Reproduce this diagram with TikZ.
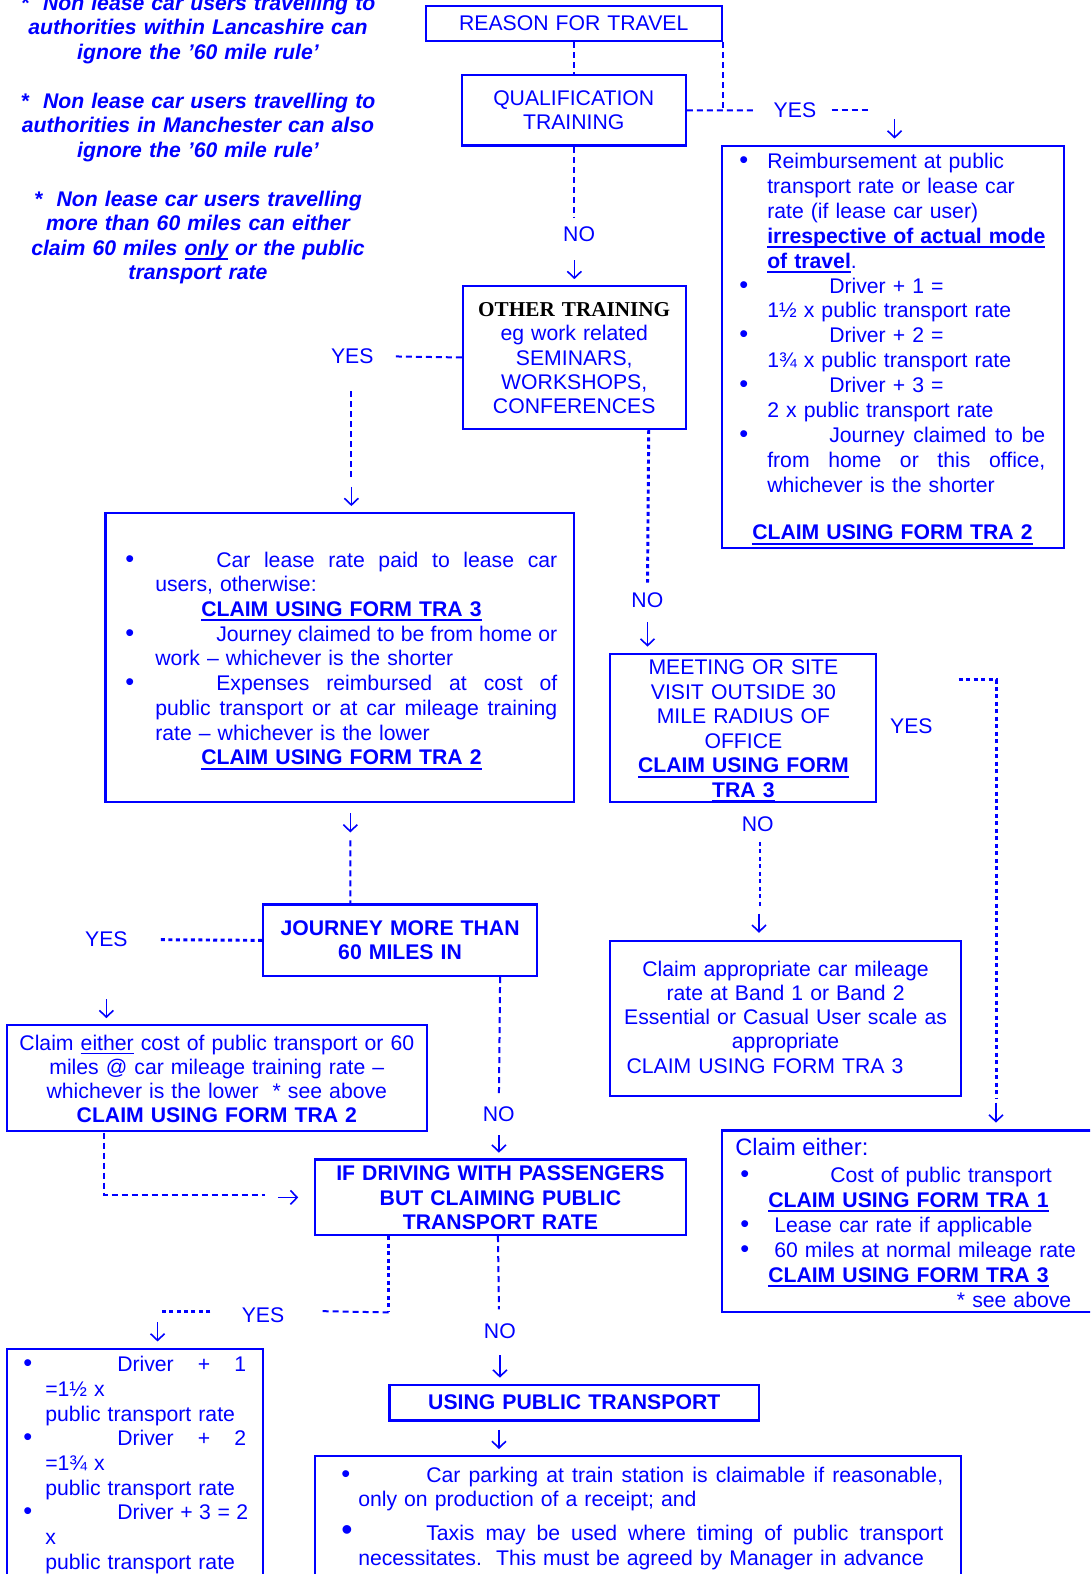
\documentclass[tikz,border=0pt]{standalone}
\usepackage{fontspec}
\setmainfont{Liberation Sans}
\newfontfamily\serifb{Liberation Serif}
\usetikzlibrary{arrows.meta,calc,fit}
\definecolor{bl}{RGB}{0,0,255}
\newlength\px \setlength\px{0.75pt}
\newcommand\fz{\fontsize{15.9}{18.4}\selectfont}
\newsavebox\ulbox
\newcommand\ulb[1]{\leavevmode\sbox\ulbox{\bfseries #1}\rlap{\rule[-3.6pt]{\wd\ulbox}{1.5pt}}\usebox\ulbox}
\newcommand\ulthin[1]{\leavevmode\sbox\ulbox{#1}\rlap{\rule[-3.2pt]{\wd\ulbox}{1.1pt}}\usebox\ulbox}
\newcommand\bul[1]{\makebox[#1\px][l]{{\fontsize{19}{18}\selectfont\textbullet}}}
\newcommand\bigbul[1]{\makebox[#1\px][l]{{\fontsize{24}{18}\selectfont\textbullet}}}
\newcommand\sx[2]{{\spaceskip=0pt\xspaceskip=0pt\makebox[#1\px][s]{#2}}}
\begin{document}
\begin{tikzpicture}[x=0.75pt,y=-0.75pt,
  every node/.style={text=bl,font=\fz,inner sep=0pt},
  box/.style={draw=bl,line width=1.6pt},
  ctr/.style={anchor=base,align=center},
  dsh/.style={draw=bl,line width=1.5pt,dash pattern=on 4.5pt off 3pt},
  dot/.style={draw=bl,line width=2.2pt,dash pattern=on 3pt off 2.6pt},
  arr/.style={draw=bl,line width=1.2pt,-{Straight Barb[length=5pt,width=10.5pt]}},
  blk/.style={anchor=base west,align=left}]
\useasboundingbox (0,0) rectangle (1090,1574);
\clip (0,0) rectangle (1090,1574);
\fill[white] (0,0) rectangle (1090,1574);

% ---------- notes ----------
\node[anchor=base,text width=420\px,align=center,font=\fz\bfseries\itshape] (notes) at (198,10)
 {*\ \ Non lease car users travelling to\\ authorities within Lancashire can\\ ignore the ’60 mile rule’\\[18.4pt]
  *\ \ Non lease car users travelling to\\ authorities in Manchester can also\\ ignore the ’60 mile rule’\\[18.4pt]
  *\ \ Non lease car users travelling\\ more than 60 miles can either\\ claim 60 miles \ulthin{only} or the public\\ transport rate};

\begin{scope}[scale=1.0037]
% ---------- boxes ----------
\node[box,fit={(424,6)(719,41)}] (reason) {};
\node[box,fit={(460,75)(683,145)}] (qual) {};
\node[box,fit={(719,145)(1060,546)}] (r1) {};
\node[box,fit={(461,285)(683,427)}] (other) {};
\node[box,fit={(105,511)(572,799)}] (b2) {};
\node[box,fit={(608,651)(873,799)}] (meet) {};
\node[box,fit={(608,937)(957,1092)}] (capp) {};
\node[box,fit={(262,901)(535,972)}] (journey) {};
\node[box,fit={(7,1021)(425,1127)}] (ce) {};
\node[box,fit={(719,1126)(1120,1307)}] (beb) {};
\node[box,fit={(314,1155)(683,1230)}] (ifd) {};
\node[box,fit={(7,1344)(262,1610)}] (bleft) {};
\node[box,fit={(388,1380)(756,1415)}] (upt) {};
\node[box,fit={(314,1450)(957,1610)}] (bot) {};

% ---------- labels ----------
\node (yes1) at (792,110) {YES};
\node (no1) at (577,233) {NO};
\node (yes2) at (351,355) {YES};
\node (no2) at (645,598) {NO};
\node (yes3) at (908,724) {YES};
\node (no3) at (755,821) {NO};
\node (yes4) at (106,936) {YES};
\node (no4) at (497,1110) {NO};
\node (yes5) at (262,1310) {YES};
\node (no5) at (498,1326) {NO};

% ---------- connectors ----------
\draw[dsh] (reason.south) -- (qual.north);
\draw[dsh] (reason.south east) -- (reason.south east |- qual.east);
\draw[dsh] (qual.east) -- ($(yes1.west)+(-19,0)$);
\draw[dsh] ($(yes1.east)+(15,0)$) -- ++(38,0);
\draw[arr] ($(r1.north west)+(173,-25)$) -- ($(r1.north west)+(173,-6)$);

\draw[dsh] (qual.south) -- ++(0,70);
\draw[arr] ($(other.north)+(0,-25)$) -- ($(other.north)+(0,-6)$);

\draw[dsh] (other.west) -- ($(yes2.east)+(18,0)$);
\draw[dsh] ($(yes2.south)+(-1,27)$) -- ($(yes2 |- b2.north)+(-1,-31)$);
\draw[arr] ($(yes2 |- b2.north)+(-1,-25)$) -- ($(yes2 |- b2.north)+(-1,-6)$);

\draw[dot] ($(other.south east)+(-38,0)$) -- ($(no2.north)+(0,-10)$);
\draw[arr] ($(no2.south)+(0,14)$) -- ($(no2 |- meet.north)+(0,-6)$);

\coordinate (c1) at (955,677);
\coordinate (c2) at ($(beb.north west)+(274,-32)$);
\draw[dot] (c1) -| (c2);
\draw[arr] ($(beb.north west)+(274,-27)$) -- ($(beb.north west)+(274,-7)$);

\draw[dot] ($(no3.south)+(2,10)$) -- ($(no3.south)+(2,76)$);
\draw[arr] ($(capp.north west)+(149,-26)$) -- ($(capp.north west)+(149,-7)$);

\draw[arr] ($(b2.south west)+(245,10)$) -- ($(b2.south west)+(245,29)$);
\draw[dsh] ($(b2.south west)+(245,37)$) -- ($(journey.north west)+(88,0)$);

\draw[dot] (journey.west) -- ($(yes4.east)+(31,0)$);
\draw[arr] ($(ce.north west)+(100,-25)$) -- ($(ce.north west)+(100,-6)$);

\draw[dsh] ($(journey.south east)+(-38,0)$) -- ($(no4.north)+(0,-12)$);
\draw[arr] ($(no4.south)+(0,13)$) -- ($(no4 |- ifd.north)+(0,-6)$);

\draw[dsh] ($(ce.south west)+(98,0)$) |- ($(ifd.west)+(-49,-2)$);
\draw[arr] ($(ifd.west)+(-36,0)$) -- ($(ifd.west)+(-16,0)$);

\draw[dot] ($(ifd.south west)+(74,0)$) -- ($(ifd.south west)+(74,76)$);
\draw[dsh] ($(ifd.south west)+(74,76)$) -- ($(yes5.east)+(35,-4)$);
\draw[dot] ($(yes5.west)+(-31,-4)$) -- ($(yes5.west)+(-83,-4)$);
\draw[arr] ($(bleft.north west)+(151,-26)$) -- ($(bleft.north west)+(151,-7)$);

\draw[dsh] ($(ifd.south west)+(183,0)$) -- ($(no5.north)+(-1,-14)$);
\draw[arr] ($(no5.south)+(0,16)$) -- ($(no5 |- upt.north)+(0,-7)$);
\draw[arr] ($(upt.south west)+(110,8)$) -- ($(upt.south west)+(110,27)$);
\end{scope}

% ---------- centred box texts ----------
\node[ctr,text width=290\px] (reasont) at (reason.center |- 0,30.5) {REASON FOR TRAVEL};
\node[ctr,text width=220\px,font=\fontsize{15.9}{18.4}\selectfont] (qualt) at (qual.center |- 0,105) {QUALIFICATION\\TRAINING};
\node[ctr,text width=220\px,font=\fontsize{15.9}{18.2}\selectfont] (othert) at (other.center |- 0,316.5)
 {{\color{black}\serifb\bfseries OTHER TRAINING}\\eg work related\\SEMINARS,\\WORKSHOPS,\\CONFERENCES};
\node[ctr,text width=262\px,font=\fontsize{15.9}{18.45}\selectfont] (meett) at (meet.center |- 0,674.5)
 {MEETING OR SITE\\VISIT OUTSIDE 30\\MILE RADIUS OF\\OFFICE\\\ulb{CLAIM USING FORM}\\\ulb{TRA 3}};
\node[ctr,text width=270\px,font=\fontsize{15.9}{18}\selectfont\bfseries] (journeyt) at (journey.center |- 0,935.5)
 {JOURNEY MORE THAN\\60 MILES IN};
\node[ctr,text width=415\px,font=\fontsize{15.9}{18}\selectfont] (cet) at (ce.center |- 0,1050)
 {Claim \ulthin{either} cost of public transport or 60\\miles @ car mileage training rate –\\whichever is the lower\hspace{14\px}* see above\\\textbf{CLAIM USING FORM TRA 2}};
\node[ctr,text width=365\px,font=\fontsize{15.9}{18.4}\selectfont\bfseries] (ifdt) at (ifd.center |- 0,1180.5)
 {IF DRIVING WITH PASSENGERS\\BUT CLAIMING PUBLIC\\TRANSPORT RATE};
\node[ctr,text width=365\px,font=\fz\bfseries] (uptt) at (upt.center |- 0,1409.5) {USING PUBLIC TRANSPORT};

% ---------- list box texts ----------
\node[blk,text width=330\px,font=\fontsize{15.9}{18.68}\selectfont] (r1t) at (739,168.5)
 {\bul{28}Reimbursement at public\\
  \hspace*{28\px}transport rate or lease car\\
  \hspace*{28\px}rate (if lease car user)\\
  \hspace*{28\px}\ulb{irrespective of actual mode}\\
  \hspace*{28\px}\ulb{of travel}.\\
  \bul{28}\hspace*{62\px}Driver + 1 =\\
  \hspace*{28\px}1½ x public transport rate\\
  \bul{28}\hspace*{62\px}Driver + 2 =\\
  \hspace*{28\px}1¾ x public transport rate\\
  \bul{28}\hspace*{62\px}Driver + 3 =\\
  \hspace*{28\px}2 x public transport rate\\
  \bul{28}\hspace*{62\px}\sx{216}{Journey claimed to be}\\
  \hspace*{28\px}\sx{278}{from home or this office,}\\
  \hspace*{28\px}whichever is the shorter\\[17pt]
  \hspace*{13\px}\ulb{CLAIM USING FORM TRA 2}};

\node[blk,text width=450\px,font=\fontsize{15.9}{18.56}\selectfont] (b2t) at (125,567)
 {\bul{30}\hspace*{61\px}\sx{341}{Car lease rate paid to lease car}\\
  \hspace*{30\px}users, otherwise:\\
  \hspace*{76\px}\ulb{CLAIM USING FORM TRA 3}\\
  \bul{30}\hspace*{61\px}\sx{341}{Journey claimed to be from home or}\\
  \hspace*{30\px}work – whichever is the shorter\\
  \bul{30}\hspace*{61\px}\sx{341}{Expenses reimbursed at cost of}\\
  \hspace*{30\px}\sx{402}{public transport or at car mileage training}\\
  \hspace*{30\px}rate – whichever is the lower\\
  \hspace*{76\px}\ulb{CLAIM USING FORM TRA 2}};

\node[ctr,text width=340\px,font=\fontsize{15.9}{18.2}\selectfont] (cappt) at (capp.center |- 0,976)
 {Claim appropriate car mileage\\rate at Band 1 or Band 2\\Essential or Casual User scale as\\appropriate\\\makebox[318\px][l]{CLAIM USING FORM TRA 3}};

\node[anchor=base west,font=\fontsize{17.8}{20}\selectfont] (be1) at (735,1155) {Claim either:};
\node[blk,text width=345\px,font=\fontsize{15.9}{18.75}\selectfont] (be2) at (740,1182)
 {\bul{28}\hspace*{62\px}Cost of public transport\\
  \hspace*{28\px}\ulb{CLAIM USING FORM TRA 1}\\
  \bul{34}Lease car rate if applicable\\
  \bul{34}60 miles at normal mileage rate\\
  \hspace*{28\px}\ulb{CLAIM USING FORM TRA 3}\\
  \makebox[331\px][r]{* see above}};

\node[blk,text width=240\px,font=\fontsize{15.9}{18.56}\selectfont] (blt) at (23,1371.5)
 {\bul{22}\hspace*{72\px}\sx{129}{Driver + 1}\\
  \hspace*{22\px}=1½ x\\
  \hspace*{22\px}public transport rate\\
  \bul{22}\hspace*{72\px}\sx{129}{Driver + 2}\\
  \hspace*{22\px}=1¾ x\\
  \hspace*{22\px}public transport rate\\
  \bul{22}\hspace*{72\px}\sx{131}{Driver + 3 = 2}\\
  \hspace*{22\px}x\\
  \hspace*{22\px}public transport rate};

\node[blk,text width=620\px,font=\fontsize{15.9}{18.5}\selectfont] (bott) at (341,1482)
 {\bul{17}\hspace*{68\px}\sx{517}{Car parking at train station is claimable if reasonable,}\\
  \hspace*{17\px}only on production of a receipt; and\\[7pt]
  \bigbul{17}\hspace*{68\px}\sx{517}{Taxis may be used where timing of public transport}\\
  \hspace*{17\px}necessitates.\ \ This must be agreed by Manager in advance};
\end{tikzpicture}
\end{document}
